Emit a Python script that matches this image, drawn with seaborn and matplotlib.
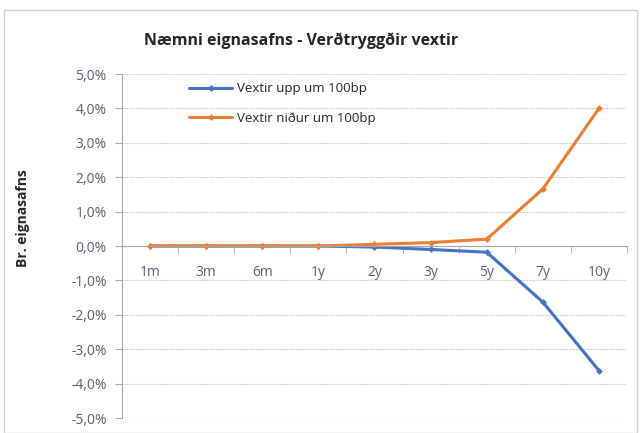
import numpy as np
import pandas as pd
import matplotlib
matplotlib.use('Agg')
import matplotlib.pyplot as plt
import seaborn as sns
from matplotlib.patches import Rectangle
from matplotlib.ticker import FuncFormatter, FixedLocator

# Gögn lesin af myndinni
liftimi = ['1m', '3m', '6m', '1y', '2y', '3y', '5y', '7y', '10y']
upp = [0.0, 0.0, 0.0, 0.0, -0.03, -0.10, -0.18, -1.63, -3.62]
nidur = [0.0, 0.0, 0.0, 0.0, 0.05, 0.10, 0.20, 1.66, 4.00]
raðir = ['Vextir upp um 100bp', 'Vextir niður um 100bp']

df = pd.DataFrame({
    'Líftími': liftimi * 2,
    'x': list(range(len(liftimi))) * 2,
    'Breyting': upp + nidur,
    'Röð': [raðir[0]] * len(liftimi) + [raðir[1]] * len(liftimi),
})

sns.set_style('white')
plt.rcParams['font.family'] = ['Open Sans', 'DejaVu Sans']

fig = plt.figure(figsize=(6.4, 4.33), dpi=100)
ax = fig.add_axes([0.1906, 0.0346, 0.7891, 0.7944])

sns.lineplot(data=df, x='x', y='Breyting', hue='Röð', hue_order=raðir,
             palette=['#4472C4', '#ED7D31'], marker='D', markersize=3.5,
             markeredgewidth=0, linewidth=2.2, ax=ax)

ax.set_xlim(-0.5, len(liftimi) - 0.5)
ax.set_ylim(-5, 5)
ax.set_yticks(np.arange(-5, 5.1, 1))
ax.yaxis.set_major_formatter(FuncFormatter(lambda v, p: f'{v:.1f}%'.replace('.', ',')))
ax.grid(axis='y', color='#BFBFBF', linestyle=(0, (1, 1)), linewidth=0.8)
ax.set_axisbelow(True)

for s in ['top', 'right']:
    ax.spines[s].set_visible(False)
ax.spines['bottom'].set_position(('data', 0))
ax.spines['bottom'].set_color('#A6A6A6')
ax.spines['left'].set_color('#A6A6A6')

tick_litur = '#5A6170'
ax.set_xticks(range(len(liftimi)))
ax.set_xticklabels(liftimi)
ax.xaxis.set_minor_locator(FixedLocator(np.arange(-0.5, len(liftimi), 1)))
ax.tick_params(axis='x', which='major', length=0, pad=14, labelsize=10, labelcolor=tick_litur)
ax.tick_params(axis='x', which='minor', length=5, color='#A6A6A6', direction='out', bottom=True,
               labelbottom=False)
ax.tick_params(axis='y', length=5, color='#A6A6A6', direction='out', left=True,
               labelsize=10, labelcolor=tick_litur, pad=6)

ax.set_xlabel('')
ax.set_ylabel('')
ax.xaxis.label.set_visible(False)
ax.yaxis.label.set_visible(False)
fig.text(0.036, 0.497, 'Br. eignasafns', rotation=90, ha='center', va='center',
         fontsize=10, fontweight='bold')
ax.text(0.945, -0.21, 'Líftími', transform=ax.get_xaxis_transform(), ha='center', va='top',
        fontsize=10, fontweight='bold')

fig.text(0.47, 0.905, 'Næmni eignasafns - Verðtryggðir vextir', ha='center', va='center',
         fontsize=11.5, fontweight='bold')

leg = ax.legend(loc='upper left', bbox_to_anchor=(0.11, 1.01), frameon=False,
                fontsize=9.5, handlelength=3.2, handletextpad=0.4, labelspacing=1.25)

fig.patches.append(Rectangle((0.006, 0.0), 0.99, 0.978, transform=fig.transFigure,
                             fill=False, edgecolor='#D0D0D0', linewidth=1))

fig.savefig('out.png', dpi=100)
